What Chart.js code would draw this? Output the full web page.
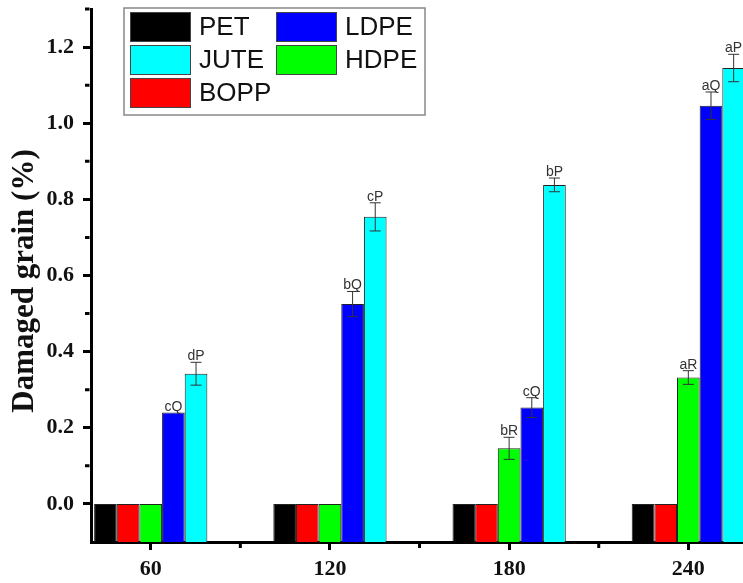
<!DOCTYPE html>
<html>
<head>
<meta charset="utf-8">
<script src="https://cdn.jsdelivr.net/npm/chart.js@4.4.1/dist/chart.umd.min.js"></script>
<style>
  html, body { margin: 0; padding: 0; background: #fff; overflow: hidden; }
  #wrap { width: 743px; height: 583px; }
</style>
</head>
<body>
<div id="wrap"><canvas id="chart" width="743" height="583"></canvas></div>
<script>
// storage time (days) and y tick labels
const storageDays = [60, 120, 180, 240]
const yTicks = [0, 0.2, 0.4, 0.6, 0.8, 1.0, 1.2]

// damaged grain (%) per bag type
const pet = [0, 0, 0, 0]
const bopp = [0, 0, 0, 0]
const hdpe = [0, 0, 0.146, 0.332]
const ldpe = [0.240, 0.525, 0.253, 1.046]
const jute = [0.342, 0.754, 0.838, 1.145]

// error bars
const hdpeErr = [0, 0, 0.029, 0.018]
const ldpeErr = [0, 0.033, 0.026, 0.036]
const juteErr = [0.030, 0.037, 0.018, 0.036]

// significance letters
const hdpeLetters = ['', '', 'bR', 'aR']
const ldpeLetters = ['cQ', 'bQ', 'cQ', 'aQ']
const juteLetters = ['dP', 'cP', 'bP', 'aP']

// legend is filled column by column, 3 rows
const legendOrder = ['PET', 'JUTE', 'BOPP', 'LDPE', 'HDPE']
const yTitle = 'Damaged grain (%)'

const serif = 'Liberation Serif'
const sans = 'Liberation Sans'

function series(label, values, color, errs, letters) {
  return {
    label: label,
    data: storageDays.map((d, i) => ({ x: d, y: values[i] })),
    backgroundColor: color,
    borderColor: '#222',
    borderWidth: 1,
    base: -0.1,
    errors: errs || [],
    letters: letters || []
  }
}

const extras = {
  id: 'extras',
  afterDatasetsDraw(chart) {
    const ctx = chart.ctx
    const y = chart.scales.y
    ctx.save()
    chart.data.datasets.forEach((ds, i) => {
      const meta = chart.getDatasetMeta(i)
      meta.data.forEach((bar, j) => {
        const v = ds.data[j].y
        const e = ds.errors[j] || 0
        const top = y.getPixelForValue(v + e)
        if (e > 0) {
          const bot = y.getPixelForValue(v - e)
          ctx.strokeStyle = '#333'
          ctx.lineWidth = 1
          ctx.beginPath()
          ctx.moveTo(bar.x, top); ctx.lineTo(bar.x, bot)
          ctx.moveTo(bar.x - 5.5, top); ctx.lineTo(bar.x + 5.5, top)
          ctx.moveTo(bar.x - 5.5, bot); ctx.lineTo(bar.x + 5.5, bot)
          ctx.stroke()
        }
        const txt = ds.letters[j]
        if (txt) {
          ctx.fillStyle = '#333'
          ctx.font = '14px "' + sans + '"'
          ctx.textAlign = 'center'
          ctx.textBaseline = 'alphabetic'
          ctx.fillText(txt, bar.x, top - 2)
        }
      })
    })
    ctx.restore()
  },
  afterDraw(chart) {
    const ctx = chart.ctx
    const { x, y } = chart.scales
    ctx.save()
    // minor ticks
    ctx.strokeStyle = '#000'
    ctx.lineWidth = 3
    ctx.beginPath()
    yTicks.forEach(v => {
      const py = y.getPixelForValue(v + 0.1)
      ctx.moveTo(89.5, py); ctx.lineTo(85, py)
    })
    for (let i = 1; i < storageDays.length; i++) {
      const px = x.getPixelForValue((storageDays[i - 1] + storageDays[i]) / 2)
      ctx.moveTo(px, 543.5); ctx.lineTo(px, 548)
    }
    ctx.stroke()

    // y title
    ctx.save()
    ctx.translate(25, 281)
    ctx.rotate(-Math.PI / 2)
    ctx.fillStyle = '#111'
    ctx.font = 'bold 31px "' + serif + '"'
    ctx.textAlign = 'center'
    ctx.textBaseline = 'middle'
    ctx.fillText(yTitle, 0, 0)
    ctx.restore()

    // legend box
    ctx.fillStyle = '#fff'
    ctx.fillRect(124, 8, 301, 107)
    ctx.strokeStyle = '#888'
    ctx.lineWidth = 1.5
    ctx.strokeRect(124, 8, 301, 107)
    ctx.font = '26px "' + sans + '"'
    ctx.textAlign = 'left'
    ctx.textBaseline = 'middle'
    legendOrder.forEach((name, k) => {
      const ds = chart.data.datasets.find(d => d.label === name)
      const col = Math.floor(k / 3)
      const row = k % 3
      const sx = col === 0 ? 130 : 276
      const sy = 12 + row * 33
      ctx.fillStyle = ds.backgroundColor
      ctx.fillRect(sx, sy, 61, 30)
      ctx.strokeStyle = '#444'
      ctx.lineWidth = 1
      ctx.strokeRect(sx + 0.5, sy + 0.5, 60, 29)
      ctx.fillStyle = '#111'
      ctx.fillText(name, sx + 69, sy + 16)
    })
    ctx.restore()
  }
}

const tickFont = { family: serif, size: 22, weight: 'bold' }

new Chart(document.getElementById('chart'), {
  type: 'bar',
  data: {
    datasets: [
      series('PET', pet, '#000000'),
      series('BOPP', bopp, '#ff0000'),
      series('HDPE', hdpe, '#00ff00', hdpeErr, hdpeLetters),
      series('LDPE', ldpe, '#0000ff', ldpeErr, ldpeLetters),
      series('JUTE', jute, '#00ffff', juteErr, juteLetters)
    ]
  },
  options: {
    responsive: false,
    animation: false,
    devicePixelRatio: 1,
    categoryPercentage: 0.632,
    barPercentage: 1.0,
    layout: { padding: { top: 9, left: 0, right: 0, bottom: 0 } },
    scales: {
      x: {
        type: 'linear',
        min: 40,
        max: 258.3,
        offset: false,
        z: 1,
        afterBuildTicks: s => { s.ticks = storageDays.map(v => ({ value: v })) },
        afterFit: s => { s.height = 41; s.paddingLeft = 0; s.paddingRight = 0 },
        grid: { offset: false, drawOnChartArea: false, drawTicks: true, tickLength: 8, tickWidth: 3, tickColor: '#000' },
        border: { display: true, color: '#000', width: 3 },
        ticks: { color: '#111', font: tickFont, padding: 6, maxRotation: 0, autoSkip: false }
      },
      y: {
        min: -0.1,
        max: 1.3,
        z: 1,
        afterBuildTicks: s => { s.ticks = yTicks.map(v => ({ value: v })) },
        afterFit: s => { s.width = 91; s.paddingTop = 0; s.paddingBottom = 0 },
        grid: { drawOnChartArea: false, drawTicks: true, tickLength: 8, tickWidth: 3, tickColor: '#000' },
        border: { display: true, color: '#000', width: 3 },
        ticks: { color: '#111', font: tickFont, padding: 9, callback: v => v.toFixed(1) }
      }
    },
    plugins: {
      legend: { display: false },
      tooltip: { enabled: false }
    }
  },
  plugins: [extras]
})
</script>
</body>
</html>
